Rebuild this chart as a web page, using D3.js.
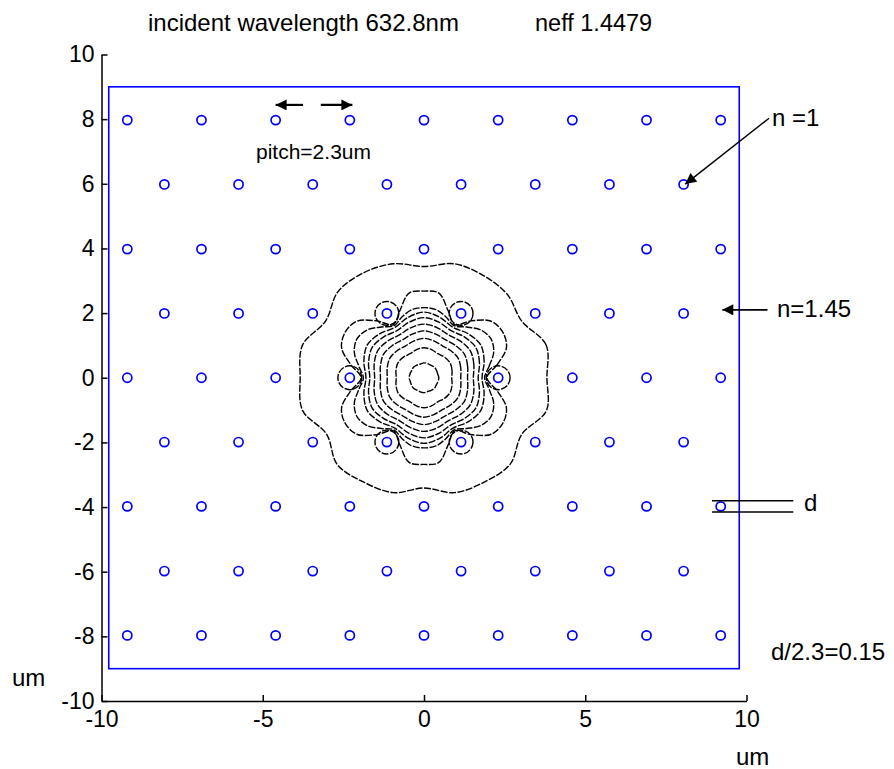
<!DOCTYPE html>
<html><head><meta charset="utf-8">
<script src="https://cdn.jsdelivr.net/npm/d3@7"></script>
<style>
html,body{margin:0;padding:0;background:#fff;}
svg text{font-family:"Liberation Sans",Arial,sans-serif;fill:#000;}
</style></head>
<body>
<svg id="chart" width="894" height="769"></svg>
<script>
// ---------- data ----------
const xTicks = [-10, -5, 0, 5, 10];
const yTicks = [-10, -8, -6, -4, -2, 0, 2, 4, 6, 8, 10];
const titleLeft = "incident wavelength 632.8nm";
const titleRight = "neff 1.4479";
const pitch = 2.3;
const holeDiameter = 0.345;           // d/2.3 = 0.15
const claddingBox = [-9.775, 9.775, -9, 9];   // x0,x1,y0,y1 (um)
const rowY = [7.97, 5.98, 3.98, 1.99, 0, -1.99, -3.98, -5.98, -7.97];
const evenRowX = [-9.2, -6.9, -4.6, -2.3, 0, 2.3, 4.6, 6.9, 9.2];
const oddRowX = [-8.05, -5.75, -3.45, -1.15, 1.15, 3.45, 5.75, 8.05];
const ringHoleContour = [[2.3,0],[1.15,1.99],[-1.15,1.99],[-2.3,0],[-1.15,-1.99],[1.15,-1.99]];
const ringHoleContourR = 0.37;
// inner contour radii (um) at angles 0,15,...,345 deg
const angles15 = [0,15,30,45,60,75,90,105,120,135,150,165,180,195,210,225,240,255,270,285,300,315,330,345];
const contour1 = [0.46,0.44,0.45,0.46,0.44,0.45,0.46,0.44,0.45,0.46,0.44,0.45,0.46,0.44,0.45,0.46,0.44,0.45,0.46,0.44,0.45,0.46,0.44,0.45];
const contour2 = [0.86,0.9,0.93,0.9,0.86,0.9,0.93,0.9,0.86,0.9,0.93,0.9,0.86,0.9,0.93,0.9,0.86,0.9,0.93,0.9,0.86,0.9,0.93,0.9];
const contour3 = [1.14,1.18,1.22,1.18,1.14,1.18,1.22,1.18,1.14,1.18,1.22,1.18,1.14,1.18,1.22,1.18,1.14,1.18,1.22,1.18,1.14,1.18,1.22,1.18];
const contour4 = [1.35,1.4,1.45,1.4,1.35,1.4,1.45,1.4,1.35,1.4,1.45,1.4,1.35,1.4,1.45,1.4,1.35,1.4,1.45,1.4,1.35,1.4,1.45,1.4];
const contour5 = [1.53,1.6,1.66,1.6,1.53,1.6,1.66,1.6,1.53,1.6,1.66,1.6,1.53,1.6,1.66,1.6,1.53,1.6,1.66,1.6,1.53,1.6,1.66,1.6];
const contour6 = [1.68,1.78,1.86,1.78,1.68,1.78,1.86,1.78,1.68,1.78,1.86,1.78,1.68,1.78,1.86,1.78,1.68,1.78,1.86,1.78,1.68,1.78,1.86,1.78];
const contour7 = [1.8,1.93,2.03,1.93,1.8,1.93,2.03,1.93,1.8,1.93,2.03,1.93,1.8,1.93,2.03,1.93,1.8,1.93,2.03,1.93,1.8,1.93,2.03,1.93];
const contour10 = [3.81,3.92,3.5,3.65,3.66,3.65,3.44,3.65,3.75,3.77,3.52,3.9,3.84,3.9,3.49,3.8,3.73,3.68,3.41,3.68,3.73,3.78,3.5,3.93];
// lobed contours at angles 0,10,...,350 deg
const angles10 = [0,10,20,30,40,50,60,70,80,90,100,110,120,130,140,150,160,170,180,190,200,210,220,230,240,250,260,270,280,290,300,310,320,330,340,350];
const contour8 = [1.88,2.05,2.3,2.4,2.3,2.05,1.86,2.0,2.14,2.17,2.14,2.0,1.86,2.05,2.3,2.4,2.3,2.05,1.88,2.05,2.3,2.4,2.3,2.05,1.86,2.0,2.14,2.17,2.14,2.0,1.86,2.05,2.3,2.4,2.3,2.05];
const contour9 = [1.95,2.3,2.72,2.82,2.72,2.3,1.9,2.2,2.66,2.68,2.66,2.2,1.9,2.3,2.72,2.82,2.72,2.3,1.95,2.3,2.72,2.82,2.72,2.3,1.9,2.2,2.66,2.68,2.66,2.2,1.9,2.3,2.72,2.82,2.72,2.3];
const polarContours = [
  [angles15, contour1], [angles15, contour2], [angles15, contour3], [angles15, contour4],
  [angles15, contour5], [angles15, contour6], [angles15, contour7],
  [angles10, contour8], [angles10, contour9], [angles15, contour10]
];

// ---------- drawing ----------
const svg = d3.select("#chart");
const x = d3.scaleLinear().domain([-10, 10]).range([101.5, 746.5]);
const y = d3.scaleLinear().domain([-10, 10]).range([701, 54.5]);
const pxPerUm = x(1) - x(0);

// axes
const fmt = d => String(d);
const yAxis = d3.axisLeft(y).tickValues(yTicks).tickFormat(fmt).tickSize(-6).tickSizeOuter(0).tickPadding(7);
const xAxis = d3.axisBottom(x).tickValues(xTicks).tickFormat(fmt).tickSize(-6).tickSizeOuter(0).tickPadding(10);
const gy = svg.append("g").attr("transform", `translate(${x(-10)},0)`).call(yAxis);
const gx = svg.append("g").attr("transform", `translate(0,${y(-10)})`).call(xAxis);
[gx, gy].forEach(g => {
  g.selectAll("path.domain").attr("stroke", "#000").attr("stroke-width", 1.5);
  g.selectAll(".tick line").attr("stroke", "#000").attr("stroke-width", 1.5);
  g.selectAll(".tick text").style("font-size", "23px").attr("fill", "#000");
});
gx.selectAll(".tick text").attr("dy", "0.71em");

// cladding box
svg.append("rect")
  .attr("x", x(claddingBox[0])).attr("y", y(claddingBox[3]))
  .attr("width", x(claddingBox[1]) - x(claddingBox[0]))
  .attr("height", y(claddingBox[2]) - y(claddingBox[3]))
  .attr("fill", "none").attr("stroke", "#0000ff").attr("stroke-width", 1.6);

// holes
const holes = [];
rowY.forEach((ry, i) => {
  const xs = (i % 2 === 0) ? evenRowX : oddRowX;
  xs.forEach(hx => { if (!(hx === 0 && ry === 0)) holes.push([hx, ry]); });
});
svg.append("g").selectAll("circle").data(holes).join("circle")
  .attr("cx", d => x(d[0])).attr("cy", d => y(d[1]))
  .attr("r", holeDiameter / 2 * pxPerUm - 1)
  .attr("fill", "none").attr("stroke", "#0000ff").attr("stroke-width", 1.7);

// contours
const cLine = d3.line().x(d => x(d[0])).y(d => y(d[1])).curve(d3.curveCatmullRomClosed.alpha(0.5));
const gc = svg.append("g").attr("fill", "none").attr("stroke", "#000").attr("stroke-width", 1.4)
  .attr("stroke-dasharray", "7,1.5");
polarContours.forEach(([angs, rs]) => {
  const pts = rs.map((r, i) => {
    const a = angs[i] * Math.PI / 180;
    return [r * Math.cos(a), r * Math.sin(a)];
  });
  gc.append("path").attr("d", cLine(pts));
});
gc.selectAll("circle.hc").data(ringHoleContour).join("circle").attr("class", "hc")
  .attr("cx", d => x(d[0])).attr("cy", d => y(d[1]))
  .attr("r", ringHoleContourR * pxPerUm);

// titles
svg.append("text").attr("x", 148).attr("y", 31).style("font-size", "24px").text(titleLeft);
svg.append("text").attr("x", 535).attr("y", 31).style("font-size", "23.5px").text(titleRight);
// axis unit labels
svg.append("text").attr("x", 12).attr("y", 686).style("font-size", "24px").text("um");
svg.append("text").attr("x", 736).attr("y", 765).style("font-size", "24px").text("um");

// annotations
const defs = svg.append("defs");
defs.append("marker").attr("id", "ah").attr("viewBox", "0 0 10 10").attr("refX", 10).attr("refY", 5)
  .attr("markerWidth", 14).attr("markerHeight", 11).attr("markerUnits", "userSpaceOnUse")
  .attr("orient", "auto").append("path").attr("d", "M0,0L10,5L0,10Z").attr("fill", "#000");
const ann = svg.append("g").attr("stroke", "#000");
function arrow(x1, y1, x2, y2, w) {
  ann.append("line").attr("x1", x(x1)).attr("y1", y(y1)).attr("x2", x(x2)).attr("y2", y(y2))
    .attr("stroke-width", w).attr("marker-end", "url(#ah)");
}
arrow(-3.75, 8.44, -4.6, 8.44, 2.2);
arrow(-3.2, 8.44, -2.22, 8.44, 2.2);
arrow(10.7, 8.03, 8.1, 5.99, 1.4);
arrow(10.65, 2.1, 9.25, 2.1, 1.6);
ann.append("line").attr("stroke-width", 1.5).attr("x1", x(8.93)).attr("x2", x(11.45)).attr("y1", y(-3.98 + 0.1725)).attr("y2", y(-3.98 + 0.1725));
ann.append("line").attr("stroke-width", 1.5).attr("x1", x(8.93)).attr("x2", x(11.45)).attr("y1", y(-3.98 - 0.1725)).attr("y2", y(-3.98 - 0.1725));

svg.append("text").attr("x", 256).attr("y", 159).style("font-size", "21px").text("pitch=" + pitch + "um");
svg.append("text").attr("x", 772).attr("y", 126).style("font-size", "24px").text("n =1");
svg.append("text").attr("x", 777).attr("y", 317).style("font-size", "24px").text("n=1.45");
svg.append("text").attr("x", 804).attr("y", 511).style("font-size", "24px").text("d");
svg.append("text").attr("x", 771).attr("y", 660).style("font-size", "24px").text("d/" + pitch + "=0.15");
</script>
</body></html>
